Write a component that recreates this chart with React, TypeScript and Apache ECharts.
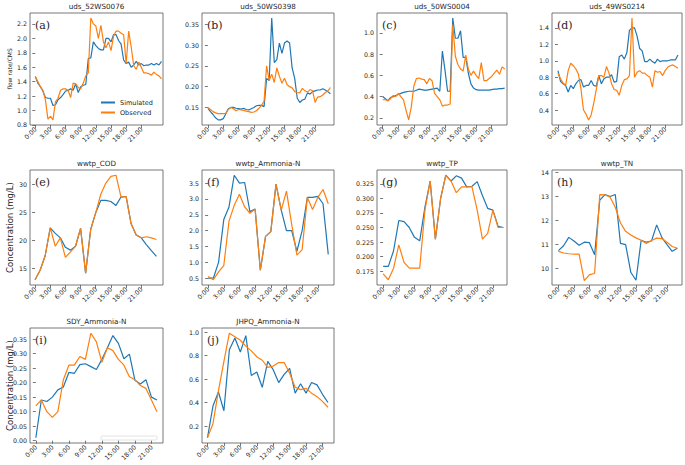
import React, { useEffect, useRef } from 'react';
import * as echarts from 'echarts';

const BLUE = '#1f77b4';
const ORANGE = '#ff7f0e';

const hourTicks = [0, 3, 6, 9, 12, 15, 18, 21];

// (a) uds_52WS0076 — 30-min steps
const aSim = [1.47,1.38,1.33,1.27,1.18,1.17,1.17,1.07,1.08,1.15,1.18,1.22,1.27,1.28,1.30,1.28,1.37,1.25,1.33,1.35,1.36,1.72,1.73,1.95,1.90,1.86,1.84,1.84,2.00,2.00,1.95,2.05,2.05,1.97,1.92,1.70,1.65,1.67,1.60,1.63,1.68,1.63,1.65,1.62,1.63,1.63,1.65,1.63,1.65,1.63,1.68];
const aObs = [1.47,1.40,1.33,1.28,1.15,0.88,0.92,0.87,1.12,1.17,1.28,1.30,1.30,1.28,1.18,1.38,1.37,1.32,1.30,1.38,1.48,1.52,2.28,2.20,2.17,2.00,2.18,1.95,1.87,1.95,1.83,2.03,2.10,2.10,2.07,2.05,1.65,2.10,1.88,1.62,1.57,1.67,1.60,1.52,1.52,1.51,1.49,1.53,1.50,1.48,1.44];
const aTicks = [0.8, 1.0, 1.2, 1.4, 1.6, 1.8, 2.0, 2.2];

// (b) uds_50WS0398
const bSim = [0.148,0.140,0.133,0.125,0.120,0.120,0.123,0.135,0.147,0.150,0.150,0.148,0.147,0.146,0.148,0.145,0.144,0.147,0.150,0.154,0.155,0.155,0.152,0.220,0.215,0.365,0.258,0.265,0.305,0.280,0.305,0.310,0.305,0.245,0.220,0.172,0.162,0.168,0.170,0.185,0.182,0.188,0.190,0.192,0.192,0.195,0.192,0.188,0.183];
const bObs = [0.150,0.145,0.140,0.137,0.135,0.135,0.135,0.136,0.145,0.150,0.147,0.142,0.145,0.144,0.143,0.141,0.140,0.138,0.139,0.142,0.148,0.155,0.165,0.250,0.215,0.230,0.210,0.245,0.225,0.208,0.220,0.205,0.200,0.197,0.188,0.186,0.185,0.196,0.190,0.187,0.193,0.190,0.162,0.175,0.176,0.180,0.186,0.190,0.198];
const bTicks = [0.15, 0.20, 0.25, 0.30, 0.35];

// (c) uds_50WS0004
const cSim = [0.40,0.38,0.36,0.39,0.40,0.41,0.42,0.43,0.44,0.445,0.45,0.45,0.45,0.46,0.47,0.465,0.46,0.46,0.465,0.47,0.475,0.48,0.45,0.83,0.65,0.45,0.45,1.14,0.95,0.95,1.02,0.77,0.77,0.62,0.52,0.48,0.465,0.46,0.46,0.46,0.46,0.46,0.465,0.47,0.47,0.475,0.475,0.48];
const cObs = [0.37,0.37,0.36,0.38,0.41,0.40,0.43,0.40,0.37,0.27,0.18,0.30,0.50,0.57,0.575,0.565,0.56,0.52,0.57,0.55,0.43,0.40,0.37,0.31,0.32,0.32,0.33,1.08,0.78,0.70,0.66,0.64,0.79,0.66,0.60,0.64,0.60,0.57,0.72,0.55,0.55,0.57,0.59,0.62,0.65,0.61,0.68,0.66];
const cTicks = [0.2, 0.4, 0.6, 0.8, 1.0];

// (d) uds_49WS0214
const dSim = [0.88,0.75,0.72,0.70,0.62,0.70,0.66,0.72,0.76,0.77,0.68,0.70,0.70,0.76,0.70,0.69,0.82,0.72,0.78,0.80,0.80,0.83,0.74,0.75,1.05,1.07,1.02,1.10,1.37,1.40,1.40,1.30,1.15,1.12,0.99,0.99,1.02,0.99,0.97,1.02,0.99,1.00,1.00,1.00,1.01,1.01,1.01,1.07];
const dObs = [0.85,0.78,0.73,0.70,0.88,0.97,0.94,0.90,0.84,0.66,0.40,0.35,0.28,0.34,0.48,0.65,0.82,0.82,0.80,0.93,0.85,0.72,0.65,0.64,0.58,0.70,0.77,0.78,0.82,1.52,0.80,0.86,0.88,0.85,0.85,0.82,0.80,0.68,0.88,0.86,0.87,0.82,0.88,0.92,0.94,0.95,0.93,0.91];
const dTicks = [0.4, 0.6, 0.8, 1.0, 1.2, 1.4];

// (e) wwtp_COD — hourly
const eSim = [13.0,14.7,17.3,22.3,21.3,20.5,18.8,18.3,19.0,22.2,14.2,22.0,25.0,27.2,27.2,27.0,26.3,27.8,27.9,23.0,21.0,20.5,19.3,18.2,17.2];
const eObs = [13.0,14.7,17.3,22.3,19.0,20.5,17.0,18.0,19.0,22.2,14.2,22.0,25.0,28.3,30.3,31.5,31.7,27.8,27.9,23.0,21.0,20.5,20.7,20.5,20.2];
const eTicks = [15, 20, 25, 30];

// (f) wwtp_Ammonia-N
const fSim = [0.50,0.50,1.00,2.35,2.75,3.75,3.50,3.52,2.60,2.68,0.75,1.82,1.97,3.47,2.65,2.00,2.00,1.35,2.00,3.05,3.05,3.08,2.85,1.25];
const fObs = [0.55,0.45,0.70,0.90,2.30,2.80,3.15,2.75,2.55,2.68,0.75,1.82,1.97,3.47,2.65,3.25,2.20,1.23,1.40,3.05,2.67,3.05,3.30,2.85];
const fTicks = [0.5, 1.0, 1.5, 2.0, 2.5, 3.0, 3.5];

// (g) wwtp_TP
const gSim = [0.183,0.183,0.210,0.262,0.260,0.250,0.233,0.227,0.285,0.330,0.230,0.300,0.340,0.330,0.339,0.335,0.320,0.321,0.329,0.305,0.283,0.280,0.252,0.250];
const gObs = [0.170,0.160,0.180,0.220,0.190,0.180,0.180,0.180,0.280,0.330,0.230,0.300,0.340,0.330,0.310,0.320,0.320,0.320,0.280,0.230,0.240,0.280,0.250,0.250];
const gTicks = [0.175, 0.2, 0.225, 0.25, 0.275, 0.3, 0.325];

// (h) wwtp_TN
const hSim = [10.75,10.95,11.30,11.15,10.97,11.10,11.08,10.58,12.85,13.08,13.00,13.08,11.05,11.00,9.85,9.52,11.18,11.10,11.15,11.82,11.30,11.00,10.72,10.85];
const hObs = [10.72,10.65,10.62,10.60,10.60,9.50,9.75,9.80,13.08,13.07,12.97,12.55,11.90,11.55,11.40,11.28,11.18,11.05,11.17,11.27,11.25,11.10,10.92,10.85];
const hTicks = [10, 11, 12, 13, 14];

// (i) SDY_Ammonia-N
const iSim = [0.01,0.14,0.135,0.15,0.175,0.185,0.235,0.232,0.262,0.265,0.255,0.245,0.28,0.32,0.362,0.335,0.282,0.298,0.208,0.195,0.21,0.15,0.14];
const iObs = [0.12,0.14,0.10,0.08,0.10,0.21,0.26,0.26,0.29,0.28,0.37,0.34,0.27,0.32,0.31,0.28,0.26,0.22,0.21,0.19,0.18,0.14,0.10];
const iTicks = [0, 0.05, 0.1, 0.15, 0.2, 0.25, 0.3, 0.35];

// (j) JHPQ_Ammonia-N
const jSim = [0.10,0.37,0.49,0.33,0.85,0.95,0.83,0.97,0.63,0.66,0.53,0.75,0.68,0.57,0.64,0.69,0.48,0.56,0.48,0.57,0.55,0.47,0.40];
const jObs = [0.10,0.22,0.50,0.75,0.99,0.96,0.93,0.88,0.84,0.79,0.76,0.70,0.71,0.74,0.74,0.65,0.53,0.51,0.52,0.48,0.45,0.41,0.36];
const jTicks = [0.2, 0.4, 0.6, 0.8, 1.0];

const COLS = [
  { left: 30, width: 133 },
  { left: 202, width: 132 },
  { left: 377, width: 130 },
  { left: 552, width: 130 },
];
const ROWS = [
  { top: 13, height: 112 },
  { top: 170, height: 115 },
  { top: 328, height: 115 },
];

type Panel = {
  letter: string; title: string; sim: number[]; obs: number[]; step: number;
  xMin: number; xMax: number; yTicks: number[]; dec: number; col: number; row: number; yMax?: number;
};

const panels: Panel[] = [
  { letter: '(a)', title: 'uds_52WS0076', sim: aSim, obs: aObs, step: 0.5, xMin: -1.05, xMax: 25.3, yTicks: aTicks, dec: 1, col: 0, row: 0 },
  { letter: '(b)', title: 'uds_50WS0398', sim: bSim, obs: bObs, step: 0.5, xMin: -1.16, xMax: 24.7, yTicks: bTicks, dec: 2, col: 1, row: 0 },
  { letter: '(c)', title: 'uds_50WS0004', sim: cSim, obs: cObs, step: 0.5, xMin: -1.1, xMax: 23.95, yTicks: cTicks, dec: 1, col: 2, row: 0 },
  { letter: '(d)', title: 'uds_49WS0214', sim: dSim, obs: dObs, step: 0.5, xMin: -1.17, xMax: 24.3, yTicks: dTicks, dec: 1, col: 3, row: 0 },
  { letter: '(e)', title: 'wwtp_COD', sim: eSim, obs: eObs, step: 1, xMin: -1.0, xMax: 25.3, yTicks: eTicks, dec: 0, col: 0, row: 1 },
  { letter: '(f)', title: 'wwtp_Ammonia-N', sim: fSim, obs: fObs, step: 1, xMin: -1.17, xMax: 24.1, yTicks: fTicks, dec: 1, col: 1, row: 1 },
  { letter: '(g)', title: 'wwtp_TP', sim: gSim, obs: gObs, step: 1, xMin: -1.17, xMax: 23.7, yTicks: gTicks, dec: 3, col: 2, row: 1 },
  { letter: '(h)', title: 'wwtp_TN', sim: hSim, obs: hObs, step: 1, xMin: -1.24, xMax: 23.9, yTicks: hTicks, dec: 0, col: 3, row: 1, yMax: 14.1 },
  { letter: '(i)', title: 'SDY_Ammonia-N', sim: iSim, obs: iObs, step: 1, xMin: -1.06, xMax: 23.1, yTicks: iTicks, dec: 2, col: 0, row: 2 },
  { letter: '(j)', title: 'JHPQ_Ammonia-N', sim: jSim, obs: jObs, step: 1, xMin: -1.0, xMax: 23.1, yTicks: jTicks, dec: 1, col: 1, row: 2 },
];

const FRAME = '#555';
const TEXT = '#262626';

function buildOption() {
  const grid: any[] = [];
  const xAxis: any[] = [];
  const yAxis: any[] = [];
  const series: any[] = [];
  const graphic: any[] = [];

  panels.forEach((p, i) => {
    const c = COLS[p.col];
    const r = ROWS[p.row];
    grid.push({
      left: c.left, top: r.top, width: c.width, height: r.height,
      show: true, borderColor: FRAME, borderWidth: 0.8, backgroundColor: 'transparent',
      containLabel: false,
    });
    const all = p.sim.concat(p.obs);
    const lo = Math.min(...all);
    const hi = Math.max(...all);
    const pad = (hi - lo) * 0.05;
    xAxis.push({
      type: 'value', gridIndex: i, min: p.xMin, max: p.xMax,
      splitLine: { show: false },
      axisLine: { show: false },
      axisTick: { show: true, length: 3, customValues: hourTicks, lineStyle: { color: FRAME, width: 0.8 } },
      axisLabel: {
        customValues: hourTicks, rotate: 45, fontSize: 6.3, color: TEXT, margin: 3,
        fontFamily: 'DejaVu Sans', formatter: (v: number) => `${v}:00`,
      },
    });
    yAxis.push({
      type: 'value', gridIndex: i, min: lo - pad, max: p.yMax ?? hi + pad,
      splitLine: { show: false },
      axisLine: { show: false },
      axisTick: { show: true, length: 3, customValues: p.yTicks, lineStyle: { color: FRAME, width: 0.8 } },
      axisLabel: {
        customValues: p.yTicks, fontSize: 6.3, color: TEXT, margin: 3,
        fontFamily: 'DejaVu Sans', formatter: (v: number) => v.toFixed(p.dec),
      },
    });
    series.push({
      type: 'line', name: 'Simulated', xAxisIndex: i, yAxisIndex: i,
      data: p.sim.map((v, k) => [k * p.step, v]),
      showSymbol: false, symbol: 'none', color: BLUE,
      lineStyle: { color: BLUE, width: 1.2 },
    });
    series.push({
      type: 'line', name: 'Observed', xAxisIndex: i, yAxisIndex: i,
      data: p.obs.map((v, k) => [k * p.step, v]),
      showSymbol: false, symbol: 'none', color: ORANGE,
      lineStyle: { color: ORANGE, width: 1.2 },
    });
    graphic.push({
      type: 'text', x: c.left + c.width / 2, y: r.top - 7,
      style: { text: p.title, fontSize: 7.2, fontFamily: 'DejaVu Sans', fill: TEXT, textAlign: 'center', textVerticalAlign: 'middle' },
    });
    graphic.push({
      type: 'text', x: c.left + 5, y: r.top + 12,
      style: { text: p.letter, fontSize: 11, fontFamily: 'DejaVu Serif', fill: TEXT, textAlign: 'left', textVerticalAlign: 'middle' },
    });
  });

  graphic.push({
    type: 'text', x: 9, y: ROWS[0].top + ROWS[0].height / 2, rotation: Math.PI / 2,
    style: { text: 'flow rate/CMS', fontSize: 6, fontFamily: 'DejaVu Sans', fill: TEXT, textAlign: 'center', textVerticalAlign: 'middle' },
  });
  [1, 2].forEach((ri) => {
    graphic.push({
      type: 'text', x: 10, y: ROWS[ri].top + ROWS[ri].height / 2, rotation: Math.PI / 2,
      style: { text: 'Concentration (mg/L)', fontSize: 8.5, fontFamily: 'DejaVu Sans', fill: TEXT, textAlign: 'center', textVerticalAlign: 'middle' },
    });
  });
  graphic.push({
    type: 'rect', shape: { x: 101, y: 436, width: 56, height: 4, r: 1 },
    style: { fill: 'none', stroke: '#dcdcdc', lineWidth: 0.8 },
  });

  return {
    animation: false,
    backgroundColor: '#ffffff',
    textStyle: { fontFamily: 'DejaVu Sans' },
    grid, xAxis, yAxis, series, graphic,
    legend: {
      data: ['Simulated', 'Observed'], orient: 'vertical', left: 101, top: 99,
      itemWidth: 14, itemHeight: 2, itemGap: 3, icon: 'rect', selectedMode: false,
      textStyle: { fontSize: 6.5, color: TEXT, fontFamily: 'DejaVu Sans' },
      padding: 0,
    },
  };
}

export default function App() {
  const ref = useRef<HTMLDivElement>(null);
  useEffect(() => {
    if (!ref.current) return;
    const chart = echarts.init(ref.current, undefined, { renderer: 'svg' });
    chart.setOption(buildOption() as any);
    return () => chart.dispose();
  }, []);
  return (
    <div
      ref={ref}
      style={{ position: 'fixed', left: 0, top: 0, width: 685, height: 465, background: '#fff' }}
    />
  );
}
